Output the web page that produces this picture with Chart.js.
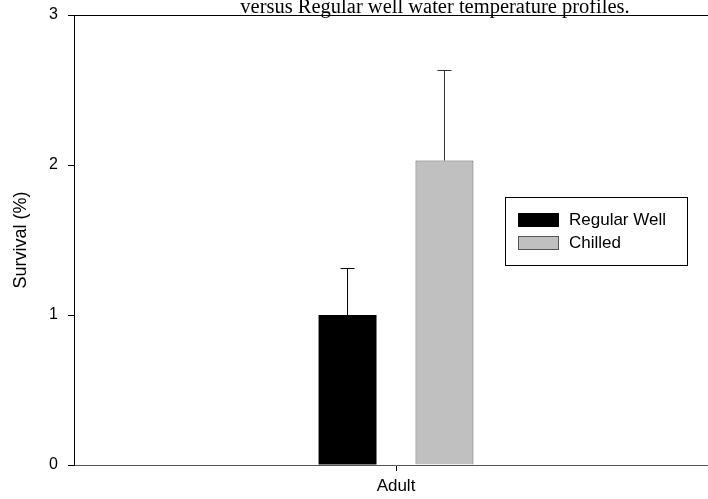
<!DOCTYPE html>
<html>
<head>
<meta charset="utf-8">
<script src="https://cdn.jsdelivr.net/npm/chart.js@4.4.1/dist/chart.umd.min.js"></script>
<style>
  html, body { margin: 0; padding: 0; background: #fff; overflow: hidden; }
  #wrap { width: 718px; height: 499px; }
</style>
</head>
<body>
<div id="wrap"><canvas id="grafico"></canvas></div>
<script>
  // dados
  const categorias = ['Adult'];
  const regularWell = [1.00];
  const chilled = [2.03];
  const erroRegular = [0.31];
  const erroChilled = [0.60];
  const ticksY = [0, 1, 2, 3];
  const titulo = 'versus Regular well water temperature profiles.';

  // barras de erro (só para cima)
  const barrasErro = {
    id: 'barrasErro',
    afterDatasetsDraw(chart) {
      const ctx = chart.ctx;
      const y = chart.scales.y;
      chart.data.datasets.forEach((ds, i) => {
        const meta = chart.getDatasetMeta(i);
        meta.data.forEach((bar, j) => {
          const topo = y.getPixelForValue(ds.data[j] + ds.erro[j]);
          ctx.save();
          ctx.strokeStyle = ds.corErro;
          ctx.lineWidth = 1;
          ctx.beginPath();
          ctx.moveTo(bar.x, bar.y);
          ctx.lineTo(bar.x, topo);
          ctx.moveTo(bar.x - 7, topo);
          ctx.lineTo(bar.x + 7, topo);
          ctx.stroke();
          ctx.restore();
        });
      });
    }
  };

  // moldura de cima, título cortado e legenda
  const extras = {
    id: 'extras',
    afterDraw(chart) {
      const ctx = chart.ctx;
      const a = chart.chartArea;
      ctx.save();
      ctx.strokeStyle = '#000';
      ctx.lineWidth = 1;
      ctx.beginPath();
      ctx.moveTo(a.left, Math.round(a.top) + 0.5);
      ctx.lineTo(a.right, Math.round(a.top) + 0.5);
      ctx.stroke();

      ctx.fillStyle = '#000';
      ctx.font = '20.5px "Liberation Serif", "Times New Roman", serif';
      ctx.textAlign = 'center';
      ctx.textBaseline = 'alphabetic';
      ctx.fillText(titulo, 435, 13);

      // legenda
      const lx = 505, ly = 197, lw = 182, lh = 68;
      ctx.fillStyle = '#fff';
      ctx.fillRect(lx, ly, lw, lh);
      ctx.strokeStyle = '#000';
      ctx.strokeRect(lx + 0.5, ly + 0.5, lw, lh);
      ctx.font = '17px "Liberation Sans", Arial, sans-serif';
      ctx.textAlign = 'left';
      ctx.textBaseline = 'middle';
      chart.data.datasets.forEach((ds, i) => {
        const sy = 213 + i * 23;
        ctx.fillStyle = ds.backgroundColor;
        ctx.fillRect(518, sy, 41, 14);
        ctx.strokeStyle = ds.borderColor;
        ctx.strokeRect(518.5, sy + 0.5, 40, 13);
        ctx.fillStyle = '#000';
        ctx.fillText(ds.label, 569, sy + 7);
      });
      ctx.restore();
    }
  };

  const ctx = document.getElementById('grafico').getContext('2d');
  const chart = new Chart(ctx, {
    type: 'bar',
    data: {
      labels: categorias,
      datasets: [
        { label: 'Regular Well', data: regularWell, erro: erroRegular, corErro: '#000',
          backgroundColor: '#000000', borderColor: '#000000', borderWidth: 0,
          categoryPercentage: 0.301, barPercentage: 0.598 },
        { label: 'Chilled', data: chilled, erro: erroChilled, corErro: '#333',
          backgroundColor: '#c0c0c0', borderColor: '#555555', borderWidth: 1,
          categoryPercentage: 0.301, barPercentage: 0.598 }
      ]
    },
    options: {
      responsive: true,
      maintainAspectRatio: false,
      animation: false,
      layout: { padding: { top: 15, right: 0, left: 0, bottom: 0 } },
      plugins: { legend: { display: false }, tooltip: { enabled: false } },
      scales: {
        x: {
          grid: { display: true, drawOnChartArea: false, drawTicks: true, tickLength: 6, color: '#000', offset: false },
          border: { display: true, color: '#555' },
          ticks: { color: '#000', padding: 5, font: { family: '"Liberation Sans", Arial, sans-serif', size: 17 } },
          afterFit(s) { s.height = 34; s.paddingLeft = 0; s.paddingRight = 0; }
        },
        y: {
          min: 0, max: 3,
          afterBuildTicks(s) { s.ticks = ticksY.map(v => ({ value: v })); },
          grid: { display: true, drawOnChartArea: false, drawTicks: true, tickLength: 6, color: '#000' },
          border: { display: true, color: '#000' },
          ticks: { color: '#000', padding: 10, font: { family: '"Liberation Sans", Arial, sans-serif', size: 16 } },
          title: { display: true, text: 'Survival (%)', color: '#000', padding: { top: 10, bottom: 0 },
                   font: { family: '"Liberation Sans", Arial, sans-serif', size: 18 } },
          afterFit(s) { s.width = 74; s.paddingTop = 0; s.paddingBottom = 0; }
        }
      }
    },
    plugins: [barrasErro, extras]
  });
</script>
</body>
</html>
